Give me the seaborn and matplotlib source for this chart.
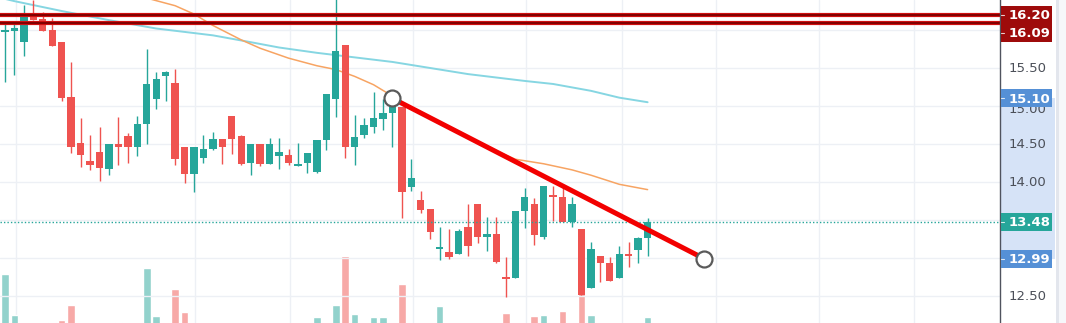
import numpy as np
import pandas as pd
import matplotlib
matplotlib.use("Agg")
import matplotlib.pyplot as plt
from matplotlib.patches import Rectangle
import seaborn as sns

# ---------------- data ----------------
opens  = [15.97, 15.99, 15.84, 16.20, 16.15, 16.00, 15.84, 15.12, 14.51, 14.28,
          14.39, 14.17, 14.50, 14.61, 14.46, 14.76, 15.09, 15.40, 15.30, 14.46,
          14.11, 14.32, 14.43, 14.57, 14.87, 14.61, 14.25, 14.50, 14.24, 14.34,
          14.36, 14.21, 14.25, 14.13, 14.55, 15.09, 15.80, 14.46, 14.62, 14.72,
          14.83, 14.91, 14.99, 13.94, 13.76, 13.65, 13.12, 13.08, 13.05, 13.41,
          13.71, 13.28, 13.32, 12.74, 12.74, 13.62, 13.71, 13.28, 13.81, 13.80,
          13.47, 13.38, 12.61, 13.03, 12.93, 12.74, 13.04, 13.10, 13.26]
closes = [15.99, 16.03, 16.17, 16.13, 15.99, 15.79, 15.11, 14.46, 14.36, 14.22,
          14.18, 14.50, 14.46, 14.46, 14.76, 15.29, 15.36, 15.45, 14.30, 14.11,
          14.46, 14.43, 14.57, 14.46, 14.57, 14.24, 14.50, 14.24, 14.50, 14.39,
          14.25, 14.22, 14.38, 14.55, 15.16, 15.72, 14.46, 14.59, 14.75, 14.84,
          14.91, 15.01, 13.87, 14.05, 13.63, 13.34, 13.13, 13.01, 13.36, 13.16,
          13.28, 13.32, 12.95, 12.73, 13.62, 13.80, 13.30, 13.95, 13.80, 13.47,
          13.71, 12.51, 13.12, 12.93, 12.70, 13.05, 13.03, 13.26, 13.48]
highs  = [16.09, 16.11, 16.33, 16.40, 16.24, 16.16, 15.84, 15.58, 14.84, 14.62,
          14.72, 14.50, 14.86, 14.64, 14.87, 15.75, 15.45, 15.46, 15.49, 14.46,
          14.46, 14.62, 14.66, 14.57, 14.87, 14.62, 14.50, 14.50, 14.58, 14.58,
          14.43, 14.51, 14.38, 14.55, 15.16, 16.60, 15.80, 14.88, 14.84, 15.18,
          15.09, 15.10, 14.99, 14.30, 13.88, 13.65, 13.41, 13.38, 13.38, 13.71,
          13.71, 13.54, 13.54, 13.01, 13.62, 13.92, 13.79, 13.95, 13.95, 13.93,
          13.80, 13.38, 13.21, 13.03, 13.01, 13.16, 13.21, 13.28, 13.53]
lows   = [15.32, 15.41, 15.66, 16.13, 15.99, 15.79, 15.07, 14.38, 14.20, 14.16,
          14.01, 14.09, 14.22, 14.25, 14.34, 14.50, 14.96, 15.07, 14.22, 13.99,
          13.87, 14.25, 14.42, 14.24, 14.37, 14.22, 14.09, 14.21, 14.24, 14.17,
          14.22, 14.21, 14.12, 14.12, 14.42, 14.86, 14.32, 14.22, 14.58, 14.65,
          14.68, 14.46, 13.53, 13.88, 13.59, 13.25, 12.97, 12.99, 13.05, 13.03,
          13.20, 13.09, 12.93, 12.49, 12.74, 13.40, 13.17, 13.25, 13.49, 13.47,
          13.41, 12.51, 12.61, 12.68, 12.70, 12.74, 12.88, 12.93, 13.03]
volumes = [66, 25, 12, 8, 10, 18, 20, 35, 14, 9,
           12, 10, 18, 11, 9, 72, 24, 10, 51, 28,
           15, 8, 7, 6, 12, 10, 9, 8, 7, 6,
           7, 5, 9, 23, 16, 35, 84, 26, 14, 23,
           23, 15, 56, 14, 12, 16, 34, 11, 10, 13,
           14, 9, 15, 27, 16, 14, 24, 25, 12, 29,
           13, 62, 25, 11, 12, 13, 8, 10, 23]

ma_fast_idx = [15, 18, 20, 22, 25, 27, 30, 33, 35, 37, 39, 41, 43, 47, 51, 54, 57, 60, 62, 65, 68]
ma_fast     = [16.42, 16.32, 16.21, 16.06, 15.87, 15.76, 15.63, 15.53, 15.48, 15.39, 15.28,
               15.13, 14.98, 14.71, 14.46, 14.30, 14.24, 14.16, 14.09, 13.97, 13.90]
ma_slow_idx = [-1, 1, 6, 11, 16, 22, 26, 29, 33, 37, 41, 43, 49, 55, 58, 62, 65, 68]
ma_slow     = [16.44, 16.38, 16.25, 16.13, 16.02, 15.93, 15.84, 15.77, 15.70, 15.64,
               15.58, 15.54, 15.42, 15.33, 15.29, 15.20, 15.11, 15.05]

trend_idx   = [41, 74]
trend_price = [15.10, 12.99]
resist_levels = [16.20, 16.09]
last_price = 13.48

tick_prices = [12.50, 13.00, 13.50, 14.00, 14.50, 15.00, 15.50, 16.00]
# labels hidden behind the price tags in the reference are left empty
tick_labels = ["12.50", "", "", "14.00", "14.50", "15.00", "15.50", ""]
vgrid_idx = [1.2, 20.1, 30.2, 43.2, 55.1, 65.3, 75.2, 86.1, 96.2]

# ---------------- styling ----------------
UP, DOWN = "#26a69a", "#ef5350"
VUP, VDOWN = "#92d2cc", "#f7a9a7"
GRID = "#edf0f5"

sns.set_style("white")
plt.rcParams["font.family"] = ["DejaVu Sans"]

W, H = 1066, 323
fig = plt.figure(figsize=(W / 100, H / 100), dpi=100)
fig.patch.set_facecolor("white")

YMIN, YMAX = 12.145, 16.395
XMIN, XMAX = -0.53, 105.29

# volume axes (bottom layer)
axv = fig.add_axes([0, 0, 1000 / W, 1])
axv.set_xlim(XMIN, XMAX)
axv.set_ylim(17, 340)
axv.set_facecolor("white")
for s in axv.spines.values():
    s.set_visible(False)
axv.set_xticks([]); axv.set_yticks([])
for x in vgrid_idx:
    axv.axvline(x, color=GRID, lw=1, zorder=0)
idx = np.arange(len(opens))
vcols = [VUP if c >= o else VDOWN for o, c in zip(opens, closes)]
axv.bar(idx, volumes, width=0.8, color=vcols, zorder=1)

# price axes (transparent, on top)
ax = fig.add_axes([0, 0, 1000 / W, 1])
ax.patch.set_visible(False)
ax.set_xlim(XMIN, XMAX)
ax.set_ylim(YMIN, YMAX)
for s in ax.spines.values():
    s.set_visible(False)
ax.set_xticks([]); ax.set_yticks([])
for p in tick_prices:
    ax.axhline(p, color=GRID, lw=1, zorder=0)

# moving averages
sns.lineplot(x=ma_slow_idx, y=ma_slow, ax=ax, color="#86d6e2", lw=1.4, zorder=2, legend=False)
sns.lineplot(x=ma_fast_idx, y=ma_fast, ax=ax, color="#f7a463", lw=1.1, zorder=2, legend=False)

# candles
for i, (o, c, h, l) in enumerate(zip(opens, closes, highs, lows)):
    col = UP if c >= o else DOWN
    ax.vlines(i, l, h, color=col, lw=1.0, zorder=3)
    bottom = min(o, c)
    height = max(abs(c - o), 0.026)
    ax.bar(i, height, bottom=bottom, width=0.78, color=col, zorder=4, linewidth=0)

# resistance lines
for lv in resist_levels:
    ax.axhline(lv, color="#d01010", lw=3.0, zorder=5)
    ax.axhline(lv, color="#7a0000", lw=1.3, zorder=6)

# last price dotted line
ax.axhline(last_price, color=UP, lw=1.0, ls=(0, (1, 1.5)), zorder=5)

# trendline
sns.lineplot(x=trend_idx, y=trend_price, ax=ax, color="#f20000", lw=3.6, zorder=7, legend=False)
ax.plot(trend_idx, trend_price, ls="none", marker="o", ms=11.5, mfc="white",
        mec="#5a5a5a", mew=1.6, zorder=8)

# ---------------- right price scale ----------------
axp = fig.add_axes([1000 / W, 0, 66 / W, 1])
axp.set_xlim(0, 66)
axp.set_ylim(YMIN, YMAX)
axp.set_facecolor("white")
for k in ["top", "right", "bottom"]:
    axp.spines[k].set_visible(False)
axp.spines["left"].set_color("#50535e")
axp.spines["left"].set_linewidth(1.0)
axp.set_xticks([])
axp.set_yticks(tick_prices)
axp.tick_params(axis="y", direction="in", length=4, width=0.8, color="#7a7d85",
                labelleft=False)

# highlighted range of the trendline
axp.add_patch(Rectangle((1, min(trend_price)), 54, abs(trend_price[0] - trend_price[1]),
                        facecolor="#d6e3f7", edgecolor="none", zorder=0.5))
# separator strip at far right
axp.add_patch(Rectangle((56, YMIN), 3, YMAX - YMIN, facecolor="#e3e6ed", edgecolor="none", zorder=0.5))
axp.add_patch(Rectangle((59, YMIN), 7, YMAX - YMIN, facecolor="#f6f7fa", edgecolor="none", zorder=0.5))

px = 1 / 76.0  # price per pixel
for p, lab in zip(tick_prices, tick_labels):
    if lab:
        # 15.00 sits partly under the 15.10 tag, as in the reference
        axp.text(9, p - (3 * px if lab == "15.00" else 0), lab, ha="left", va="center",
                 fontsize=9.5, color="#4b4f58", zorder=1)

def tag(center, text, color):
    axp.add_patch(Rectangle((0.5, center - 9 * px), 51, 18 * px, facecolor=color,
                            edgecolor="none", zorder=3))
    axp.plot([0.5, 3.5], [center, center], color="white", lw=0.8, zorder=4, alpha=0.8)
    axp.text(9, center - 1 * px, text, ha="left", va="center", fontsize=9.5,
             color="white", fontweight="bold", zorder=4)

tag(resist_levels[0], f"{resist_levels[0]:.2f}", "#9e0b0b")
tag(resist_levels[0] - 18 * px, f"{resist_levels[1]:.2f}", "#9e0b0b")
tag(trend_price[0], f"{trend_price[0]:.2f}", "#5590d6")
tag(last_price, f"{last_price:.2f}", UP)
tag(trend_price[1], f"{trend_price[1]:.2f}", "#5590d6")

fig.savefig("out.png", dpi=100, facecolor="white")
